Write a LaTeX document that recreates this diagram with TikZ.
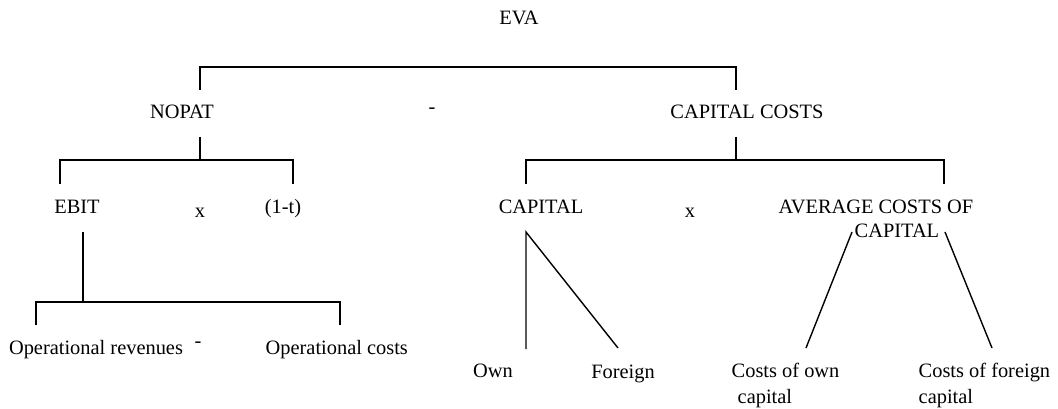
\documentclass[tikz,border=0pt]{standalone}
\usepackage{fontspec}
\setmainfont{Liberation Serif}
\begin{document}
\begin{tikzpicture}[x=1pt,y=-1pt,line width=1.4pt,
  lbl/.style={inner sep=0pt,anchor=base,font=\fontsize{20.4}{26}\selectfont},
  lblw/.style={lbl,anchor=base west}]
\useasboundingbox (0,0) rectangle (1058,409);
% texts
\node[lbl] (eva) at (519,25) {EVA};
\node[lbl] (nopat) at (182,119) {NOPAT};
\node[lbl] (minus1) at (432,114) {-};
\node[lbl] (capcosts) at (747,119) {CAPITAL COSTS};
\node[lbl] (ebit) at (77,214) {EBIT};
\node[lbl] (times1) at (200,217) {x};
\node[lbl] (onet) at (283,214) {(1-t)};
\node[lbl] (capital) at (541,214) {CAPITAL};
\node[lbl] (times2) at (690,217) {x};
\node[lblw] (acc1) at (778,213) {AVERAGE COSTS OF};
\node[lblw] (acc2) at (854,237) {CAPITAL};
\node[lbl] (oprev) at (96,354) {Operational revenues};
\node[lbl] (minus2) at (198,347) {-};
\node[lblw] (opcost) at (265,354) {Operational costs};
\node[lbl] (own) at (493,377) {Own};
\node[lbl] (foreign) at (623,378) {Foreign};
\node[lblw] (costown1) at (731,377) {Costs of own};
\node[lblw] (costown2) at (737,403) {capital};
\node[lblw] (costfor1) at (918,377) {Costs of foreign};
\node[lblw] (costfor2) at (918,403) {capital};
% connector points
\coordinate (evaL) at (200,90); \coordinate (evaLt) at (200,67);
\coordinate (evaRt) at (736,67); \coordinate (evaR) at (736,90);
\coordinate (nopS) at (200,137); \coordinate (nopB) at (200,160);
\coordinate (nopL) at (60,184); \coordinate (nopLt) at (60,160);
\coordinate (nopRt) at (293,160); \coordinate (nopR) at (293,184);
\coordinate (ccS) at (736,137); \coordinate (ccB) at (736,160);
\coordinate (ccL) at (526,184); \coordinate (ccLt) at (526,160);
\coordinate (ccRt) at (944,160); \coordinate (ccR) at (944,184);
\coordinate (ebS) at (83,232); \coordinate (ebB) at (83,302);
\coordinate (ebL) at (36,325); \coordinate (ebLt) at (36,302);
\coordinate (ebRt) at (340,302); \coordinate (ebR) at (340,325);
\coordinate (capT) at (526,232); \coordinate (ownT) at (526,349);
\coordinate (forT) at (618,348);
\coordinate (accL) at (852,232); \coordinate (cownT) at (806,348);
\coordinate (accR) at (945,232); \coordinate (cforT) at (992,348);
% connectors
\draw (evaL) -- (evaLt) -- (evaRt) -- (evaR);
\draw (nopS) -- (nopB);
\draw (nopL) -- (nopLt) -- (nopRt) -- (nopR);
\draw (ccS) -- (ccB);
\draw (ccL) -- (ccLt) -- (ccRt) -- (ccR);
\draw (ebS) -- (ebB);
\draw (ebL) -- (ebLt) -- (ebRt) -- (ebR);
\draw (ownT) -- (capT) -- (forT);
\draw (accL) -- (cownT);
\draw (accR) -- (cforT);
\end{tikzpicture}
\end{document}
